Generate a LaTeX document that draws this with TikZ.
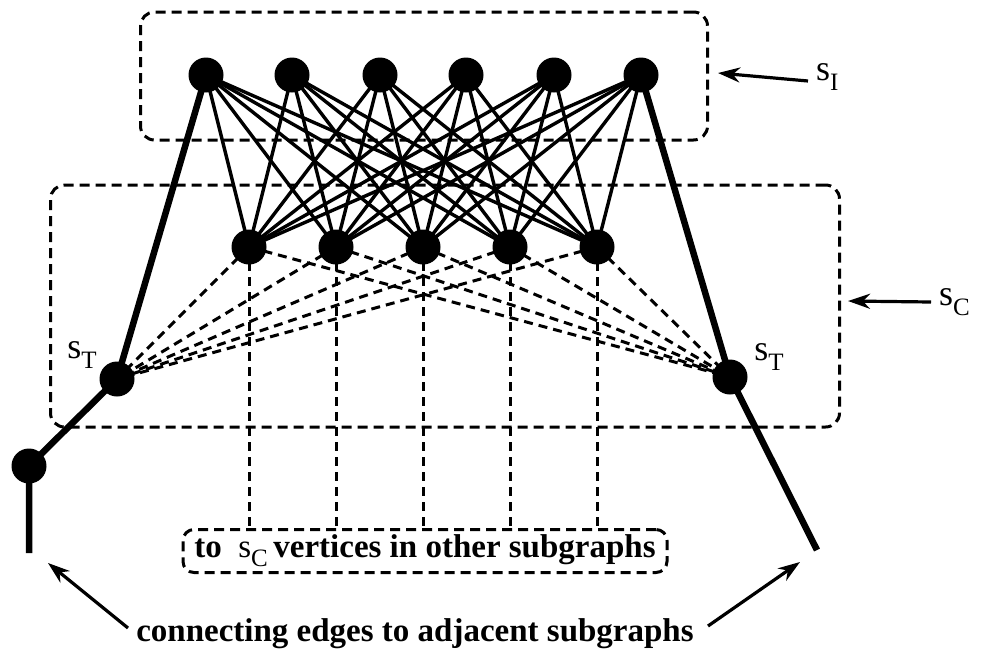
\documentclass[tikz,border=0pt]{standalone}
\usepackage{fontspec}
\setmainfont{Liberation Serif}
\usetikzlibrary{arrows.meta}
\pgfdeclarelayer{bg}
\pgfsetlayers{bg,main}
% lowercase set name with a lowered capital index
\newcommand{\setname}[2]{#1\raisebox{-0.28em}{\fontsize{25}{25}\selectfont #2}}

\begin{document}
\begin{tikzpicture}[x=1pt,y=-1pt,
  vtx/.style={circle,fill=black,inner sep=0pt,minimum size=35pt},
  setbox/.style={draw,line width=3pt,dash pattern=on 10pt off 6pt,rounded corners=14pt,inner sep=0pt},
  full/.style={line width=3.4pt},
  heavy/.style={line width=6.5pt},
  link/.style={line width=3pt,dash pattern=on 9pt off 6pt},
  pointer/.style={line width=3.2pt,-{Stealth[length=22pt,width=15pt]}},
  lbl/.style={font=\fontsize{36}{36}\selectfont,inner sep=0pt},
  captext/.style={font=\bfseries\fontsize{33}{33}\selectfont,inner sep=0pt}]
\useasboundingbox (0,0) rectangle (982,662);

% set boxes
\node[setbox,minimum width=567pt,minimum height=128pt] (SI) at (424,76) {};
\node[setbox,minimum width=789pt,minimum height=242pt] (SC) at (445,306) {};

% independent set vertices
\foreach \i/\x in {1/206,2/292,3/380,4/466,5/554,6/641}
  \node[vtx] (t\i) at (\x,75) {};
% clique-side vertices
\foreach \j/\x in {1/249,2/336,3/423,4/510,5/597}
  \node[vtx] (c\j) at (\x,247) {};
% terminal vertices
\node[vtx] (stl) at (117,379) {};
\node[vtx] (str) at (730,377) {};
\node[vtx] (ext) at (29,466) {};
\coordinate (endl) at (29,553);
\coordinate (endr) at (817,550);

% note box
\node[setbox,rounded corners=11pt,minimum width=484pt,minimum height=43pt,
      font=\bfseries\fontsize{33}{33}\selectfont] (note) at (425,551)
  {to\enspace{\mdseries\setname{s}{C}}\,vertices in other subgraphs};

% labels
\node[lbl,anchor=west] (sI) at (816,77) {\setname{s}{I}};
\node[lbl,anchor=west] (sC) at (939,302) {\setname{s}{C}};
\node[lbl] (sTl) at (82,355) {\setname{s}{T}};
\node[lbl] (sTr) at (769,357) {\setname{s}{T}};
\node[captext,anchor=base] (cap) at (415,641) {connecting edges to adjacent subgraphs};

\coordinate (tipI) at (718,73);
\coordinate (tipC) at (848,301);
\coordinate (tipL) at (48,563);
\coordinate (tipR) at (800,562);

\begin{pgfonlayer}{bg}
  \foreach \i in {1,...,6}
    \foreach \j in {1,...,5}
      \draw[full] (t\i.center) -- (c\j.center);
  \foreach \j in {1,...,5} {
    \draw[link] (c\j.center) -- (stl.center);
    \draw[link] (c\j.center) -- (str.center);
    \draw[link] (c\j.center) -- (c\j |- note.north);
  }
  \draw[heavy] (t1.center) -- (stl.center) -- (ext.center) -- (endl);
  \draw[heavy] (t6.center) -- (str.center) -- (endr);
\end{pgfonlayer}

% pointers
\draw[pointer] ([xshift=-8pt,yshift=-4pt]sI.west) -- (tipI);
\draw[pointer] ([xshift=-8pt]sC.west) -- (tipC);
\draw[pointer] (128,628) -- (tipL);
\draw[pointer] (708,626) -- (tipR);
\end{tikzpicture}
\end{document}
